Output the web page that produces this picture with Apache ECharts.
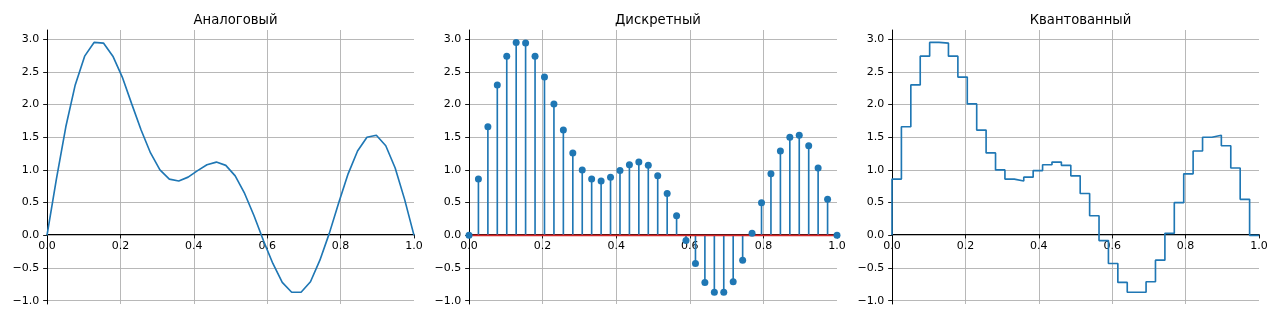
<!DOCTYPE html>
<html>
<head>
<meta charset="utf-8">
<script src="https://cdn.jsdelivr.net/npm/echarts@6/dist/echarts.min.js"></script>
<style>
html,body{margin:0;padding:0;background:#fff;}
#c{width:1280px;height:320px;}
</style>
</head>
<body>
<div id="c"></div>
<script>
const titles = ['Аналоговый', 'Дискретный', 'Квантованный'];
const xValues = [0, 0.0256, 0.0513, 0.0769, 0.1026, 0.1282, 0.1538, 0.1795, 0.2051, 0.2308,
  0.2564, 0.2821, 0.3077, 0.3333, 0.3590, 0.3846, 0.4103, 0.4359, 0.4615, 0.4872,
  0.5128, 0.5385, 0.5641, 0.5897, 0.6154, 0.6410, 0.6667, 0.6923, 0.7179, 0.7436,
  0.7692, 0.7949, 0.8205, 0.8462, 0.8718, 0.8974, 0.9231, 0.9487, 0.9744, 1];
const analogValues = [0, 0.86, 1.66, 2.30, 2.74, 2.95, 2.94, 2.74, 2.42, 2.01,
  1.61, 1.26, 1.00, 0.86, 0.83, 0.89, 0.99, 1.08, 1.12, 1.07,
  0.91, 0.64, 0.30, -0.08, -0.43, -0.72, -0.87, -0.87, -0.71, -0.38,
  0.03, 0.50, 0.94, 1.29, 1.50, 1.53, 1.37, 1.03, 0.55, 0.00];
const discreteValues = analogValues.slice();
const quantizedValues = analogValues.slice();
const yTicks = [-1.0, -0.5, 0.0, 0.5, 1.0, 1.5, 2.0, 2.5, 3.0];
const xTicks = [0.0, 0.2, 0.4, 0.6, 0.8, 1.0];

const FONT = 'DejaVu Sans';
const BLUE = '#1f77b4';
const LW = 1.65;
const fmt = v => (v < 0 ? '\u2212' : '') + Math.abs(v).toFixed(1);
const pairs = vals => xValues.map((x, i) => [x, vals[i]]);

const GRID_TOP = 30, GRID_H = 274;
const gridPos = [
  {left: 47, width: 367},
  {left: 469, width: 368},
  {left: 892, width: 367}
];

const option = {
  animation: false,
  backgroundColor: '#fff',
  title: titles.map((t, i) => ({
    text: t,
    left: gridPos[i].left + gridPos[i].width / 2,
    top: 9,
    textAlign: 'center',
    textStyle: {fontFamily: FONT, fontSize: 13.2, fontWeight: 'normal', color: '#000'}
  })),
  grid: gridPos.map(g => ({left: g.left, width: g.width, top: GRID_TOP, height: GRID_H, containLabel: false})),
  xAxis: gridPos.map((g, i) => ({
    type: 'value', gridIndex: i, min: 0, max: 1, interval: 0.2, position: 'bottom', offset: 0,
    axisLine: {show: true, onZero: false, lineStyle: {color: '#000', width: 1}},
    axisTick: {show: true, length: 3.85, inside: false, lineStyle: {color: '#000', width: 0.9}},
    axisLabel: {show: true, margin: 6, color: '#000', fontFamily: FONT, fontSize: 11,
      customValues: xTicks, formatter: fmt},
    splitLine: {show: true, showMinLine: true, showMaxLine: false, lineStyle: {color: '#b0b0b0', width: 0.9}}
  })),
  yAxis: gridPos.map((g, i) => ({
    type: 'value', gridIndex: i, min: -1.05, max: 3.14, minInterval: 0.5, maxInterval: 0.5,
    axisLine: {show: true, onZero: false, lineStyle: {color: '#000', width: 1}},
    axisTick: {show: true, length: 3.85, inside: false, customValues: yTicks, lineStyle: {color: '#000', width: 0.9}},
    axisLabel: {show: true, margin: 7.7, color: '#000', fontFamily: FONT, fontSize: 11,
      customValues: yTicks, formatter: fmt},
    splitLine: {show: true, showMinLine: true, showMaxLine: true, lineStyle: {color: '#b0b0b0', width: 0.9}}
  })),
  series: [
    {
      type: 'line', xAxisIndex: 0, yAxisIndex: 0, data: pairs(analogValues),
      symbol: 'none', lineStyle: {color: BLUE, width: LW}, z: 3
    },
    {
      type: 'custom', xAxisIndex: 1, yAxisIndex: 1, data: pairs(discreteValues),
      renderItem: function (params, api) {
        const p0 = api.coord([api.value(0), 0]);
        const p1 = api.coord([api.value(0), api.value(1)]);
        return {type: 'line', shape: {x1: p0[0], y1: p0[1], x2: p1[0], y2: p1[1]},
          style: {stroke: BLUE, lineWidth: LW}};
      },
      z: 3
    },
    {
      type: 'line', xAxisIndex: 1, yAxisIndex: 1, data: [[0, 0], [1, 0]],
      symbol: 'none', lineStyle: {color: '#d62728', width: LW}, z: 4
    },
    {
      type: 'scatter', xAxisIndex: 1, yAxisIndex: 1, data: pairs(discreteValues),
      symbol: 'circle', symbolSize: 7, itemStyle: {color: BLUE, opacity: 1}, z: 5
    },
    {
      type: 'line', xAxisIndex: 2, yAxisIndex: 2, data: pairs(quantizedValues),
      step: 'start', symbol: 'none', lineStyle: {color: BLUE, width: LW}, z: 3
    }
  ]
};

const chart = echarts.init(document.getElementById('c'), null, {renderer: 'canvas'});
chart.setOption(option);
// move each x axis (line, ticks, labels) to y = 0, like a spine set at 'zero'
const offsets = gridPos.map((g, i) => {
  const y0 = chart.convertToPixel({yAxisIndex: i}, 0);
  return {offset: -(GRID_TOP + GRID_H - y0)};
});
chart.setOption({xAxis: offsets});
</script>
</body>
</html>
